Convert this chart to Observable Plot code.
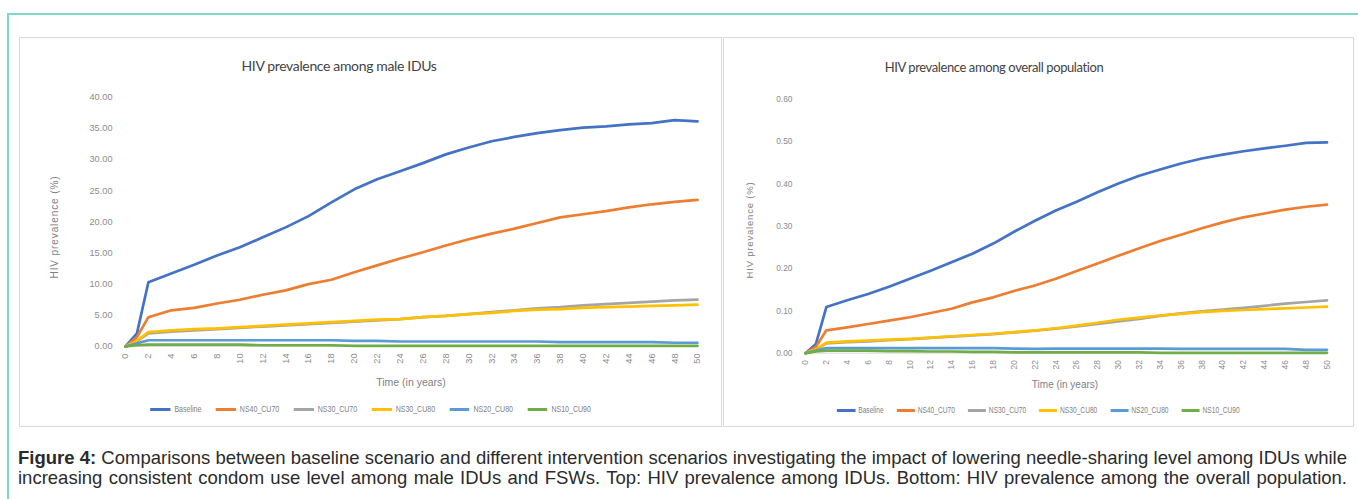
<!DOCTYPE html>
<html><head><meta charset="utf-8">
<script src="https://cdn.jsdelivr.net/npm/d3@7"></script>
<script src="https://cdn.jsdelivr.net/npm/@observablehq/plot@0.6"></script>
<style>
html,body{margin:0;padding:0;background:#fff;}
#page{position:relative;width:1358px;height:499px;overflow:hidden;font-family:Lato,sans-serif;}
.abs{position:absolute;}
.frame{position:absolute;border:1px solid #d9d9d9;box-sizing:border-box;}
.ctr{position:absolute;white-space:nowrap;transform:translate(-50%,-50%);}
.ylab{position:absolute;white-space:nowrap;transform:translate(-50%,-50%) rotate(-90deg);color:#7f7f7f;font-family:"Liberation Sans",Arial,sans-serif;}
.legend{position:absolute;display:flex;justify-content:center;align-items:center;white-space:nowrap;color:#7f7f7f;font-family:"Liberation Sans",Arial,sans-serif;transform-origin:50% 50%;}
.item{display:flex;align-items:center;}
.sw{display:inline-block;height:3px;}
.cap{position:absolute;left:18px;width:1329px;font-family:"Liberation Sans",Arial,sans-serif;color:#2b2b2b;line-height:20px;white-space:nowrap;}
</style></head>
<body><div id="page"></div>
<script>
// ---- data ----
const years = [0,1,2,4,6,8,10,12,14,16,18,20,22,24,26,28,30,32,34,36,38,40,42,44,46,48,50];
const scenarios = ["Baseline","NS40_CU70","NS30_CU70","NS30_CU80","NS20_CU80","NS10_CU90"];
const colors = ["#4472C4","#ED7D31","#A5A5A5","#FFC000","#5B9BD5","#70AD47"];

// HIV prevalence among male IDUs (%)
const iduBaseline = [0,2.1,10.3,11.7,13.1,14.6,15.9,17.5,19.1,20.9,23.1,25.2,26.8,28.1,29.4,30.8,31.9,32.9,33.6,34.2,34.7,35.1,35.3,35.6,35.8,36.3,36.1];
const iduNS40CU70 = [0,1.5,4.7,5.8,6.2,6.9,7.5,8.3,9.0,10.0,10.7,11.9,13.0,14.1,15.1,16.2,17.2,18.1,18.9,19.8,20.7,21.2,21.7,22.3,22.8,23.2,23.5];
const iduNS30CU70 = [0,0.8,2.1,2.4,2.6,2.8,3.0,3.2,3.4,3.6,3.8,4.0,4.2,4.4,4.7,4.9,5.2,5.5,5.8,6.1,6.3,6.6,6.8,7.0,7.2,7.4,7.5];
const iduNS30CU80 = [0,0.9,2.3,2.6,2.8,2.9,3.1,3.3,3.5,3.7,3.9,4.1,4.3,4.4,4.7,4.9,5.2,5.4,5.7,5.9,6.0,6.2,6.3,6.4,6.5,6.6,6.7];
const iduNS20CU80 = [0,0.5,1.0,1.0,1.0,1.0,1.0,1.0,1.0,1.0,1.0,0.9,0.9,0.8,0.8,0.8,0.8,0.8,0.8,0.8,0.7,0.7,0.7,0.7,0.7,0.6,0.6];
const iduNS10CU90 = [0,0.2,0.3,0.3,0.3,0.3,0.3,0.2,0.2,0.2,0.2,0.1,0.1,0.1,0.1,0.1,0.1,0.1,0.1,0.1,0.1,0.1,0.1,0.1,0.1,0.1,0.1];

// HIV prevalence among overall population (%)
const popBaseline = [0,0.022,0.109,0.125,0.140,0.157,0.176,0.195,0.215,0.235,0.259,0.287,0.313,0.337,0.358,0.380,0.401,0.419,0.434,0.448,0.460,0.469,0.477,0.484,0.490,0.497,0.498];
const popNS40CU70 = [0,0.015,0.054,0.061,0.069,0.077,0.085,0.095,0.105,0.120,0.132,0.147,0.160,0.176,0.194,0.212,0.230,0.248,0.265,0.280,0.295,0.309,0.321,0.330,0.339,0.346,0.351];
const popNS30CU70 = [0,0.008,0.023,0.026,0.028,0.031,0.033,0.036,0.039,0.042,0.045,0.049,0.053,0.058,0.063,0.069,0.075,0.081,0.088,0.094,0.099,0.103,0.107,0.112,0.117,0.121,0.125];
const popNS30CU80 = [0,0.009,0.025,0.028,0.030,0.032,0.034,0.037,0.040,0.043,0.046,0.050,0.054,0.059,0.065,0.072,0.079,0.084,0.089,0.093,0.097,0.100,0.102,0.104,0.106,0.108,0.110];
const popNS20CU80 = [0,0.006,0.012,0.012,0.012,0.012,0.012,0.012,0.012,0.012,0.012,0.011,0.010,0.011,0.011,0.011,0.011,0.011,0.011,0.010,0.010,0.010,0.010,0.010,0.010,0.008,0.008];
const popNS10CU90 = [0,0.004,0.006,0.006,0.006,0.005,0.005,0.004,0.004,0.003,0.003,0.002,0.002,0.002,0.002,0.002,0.002,0.002,0.001,0.001,0.001,0.001,0.001,0.001,0.001,0.001,0.001];

const xTicks = [0,2,4,6,8,10,12,14,16,18,20,22,24,26,28,30,32,34,36,38,40,42,44,46,48,50];
const iduYTicks = [0,5,10,15,20,25,30,35,40];
const popYTicks = [0,0.1,0.2,0.3,0.4,0.5,0.6];

const titles = ["HIV prevalence among male IDUs","HIV prevalence among overall population"];
const yLabel = "HIV prevalence (%)";
const xLabel = "Time (in years)";
const captionBold = "Figure 4:";
const captionLine1 = " Comparisons between baseline scenario and different intervention scenarios investigating the impact of lowering needle-sharing level among IDUs while";
const captionLine2 = "increasing consistent condom use level among male IDUs and FSWs. Top: HIV prevalence among IDUs. Bottom: HIV prevalence among the overall population.";

// ---- build ----
function toRows(seriesList){
  return scenarios.flatMap((s,i)=>years.map((yr,j)=>({year:yr,value:seriesList[i][j],scenario:s})));
}
const iduRows = toRows([iduBaseline,iduNS40CU70,iduNS30CU70,iduNS30CU80,iduNS20CU80,iduNS10CU90]);
const popRows = toRows([popBaseline,popNS40CU70,popNS30CU70,popNS30CU80,popNS20CU80,popNS10CU90]);

const page = document.getElementById("page");
function el(tag, cls, css, text){
  const e=document.createElement(tag); if(cls) e.className=cls;
  Object.assign(e.style, css||{}); if(text!=null) e.textContent=text; page.appendChild(e); return e;
}
// outer teal frame
el("div","abs",{left:"7px",top:"13px",width:"1351px",height:"486px",borderTop:"2px solid #7fd6cc",borderLeft:"2px solid #7fd6cc",boxSizing:"border-box"});

function panel(cfg){
  el("div","frame",{left:cfg.left+"px",top:cfg.top+"px",width:cfg.w+"px",height:cfg.h+"px"});
  const svg = Plot.plot({
    width:cfg.w, height:cfg.h,
    marginLeft:cfg.mL, marginRight:cfg.mR, marginTop:cfg.mT, marginBottom:cfg.mB,
    x:{domain:[0,50]}, y:{domain:cfg.yDomain},
    color:{domain:scenarios, range:colors},
    style:{fontFamily:"'Liberation Sans',Arial,sans-serif", color:"#8c8c8c", background:"transparent", overflow:"visible"},
    marks:[
      Plot.ruleY([0],{stroke:"#d9d9d9"}),
      Plot.axisY({ticks:cfg.yTicks, tickFormat:d3.format(".2f"), tickSize:0, tickPadding:cfg.yPad, label:null, fontSize:cfg.fs}),
      Plot.axisX({ticks:xTicks, tickFormat:d=>String(d), tickRotate:-90, tickSize:0, tickPadding:cfg.xPad, label:null, fontSize:cfg.fs}),
      Plot.line(cfg.rows,{x:"year",y:"value",z:"scenario",stroke:"scenario",strokeWidth:2.7,strokeLinejoin:"round",strokeLinecap:"round"})
    ]
  });
  const holder = el("div","abs",{left:cfg.left+"px",top:cfg.top+"px"});
  holder.appendChild(svg);
  el("div","ctr",{left:cfg.titleX+"px",top:cfg.titleY+"px",fontSize:cfg.titleFs+"px",letterSpacing:cfg.titleLs+"px",color:"#444"},cfg.title);
  el("div","ylab",{left:cfg.ylabX+"px",top:cfg.ylabY+"px",fontSize:cfg.ylabFs+"px",letterSpacing:cfg.ylabLs+"px"},yLabel);
  el("div","ctr",{left:cfg.xlabX+"px",top:cfg.xlabY+"px",fontSize:cfg.xlabFs+"px",color:"#7f7f7f",fontFamily:"'Liberation Sans',Arial,sans-serif"},xLabel);
  // legend, horizontally condensed like the reference's narrow legend text
  const k = cfg.legScale, W = cfg.w/k;
  const lg = el("div","legend",{left:(cfg.left+cfg.w/2-W/2)+"px",width:W+"px",top:(cfg.legY-8)+"px",height:"16px",fontSize:cfg.legFs+"px",transform:"scaleX("+k+")"});
  scenarios.forEach((s,i)=>{
    const it=document.createElement("div"); it.className="item";
    it.style.marginRight = i<scenarios.length-1 ? (cfg.legGap/k)+"px" : "0px";
    const sw=document.createElement("span"); sw.className="sw"; sw.style.width=(cfg.swW/k)+"px"; sw.style.background=colors[i]; sw.style.marginRight=(cfg.swGap/k)+"px";
    const tx=document.createElement("span"); tx.textContent=s;
    it.appendChild(sw); it.appendChild(tx); lg.appendChild(it);
  });
}

panel({left:19, top:37, w:703, h:390, mL:106, mR:25, mT:59.5, mB:81,
  yDomain:[0,40], yTicks:iduYTicks, rows:iduRows, fs:9.2, yPad:13, xPad:7,
  title:titles[0], titleX:339, titleY:65, titleFs:14, titleLs:-0.35,
  ylabX:54, ylabY:227, ylabFs:10, ylabLs:0.9,
  xlabX:411, xlabY:382, xlabFs:10.5,
  legY:409, legFs:9, legScale:0.78, legGap:14.5, swW:20, swGap:4});
panel({left:723, top:37, w:631, h:390, mL:82, mR:27.5, mT:61.7, mB:74.3,
  yDomain:[0,0.6], yTicks:popYTicks, rows:popRows, fs:8.4, yPad:13, xPad:7,
  title:titles[1], titleX:994, titleY:67, titleFs:13, titleLs:-0.4,
  ylabX:749, ylabY:230, ylabFs:9.5, ylabLs:0.8,
  xlabX:1065, xlabY:384, xlabFs:10,
  legY:410, legFs:8.5, legScale:0.78, legGap:13, swW:18, swGap:3});

// caption: two lines, sized to the reference line width
const c1 = el("div","cap",{top:"448px",fontSize:"18px"});
const b = document.createElement("b"); b.textContent=captionBold; c1.appendChild(b);
c1.appendChild(document.createTextNode(captionLine1));
const c2 = el("div","cap",{top:"468px",fontSize:"18px"},captionLine2);
[c1,c2].forEach(c=>{c.style.width="auto";});
const wMax = Math.max(c1.getBoundingClientRect().width, c2.getBoundingClientRect().width);
const fs = Math.floor(18*1329/wMax*10)/10;
[c1,c2].forEach(c=>{
  c.style.fontSize=fs+"px"; c.style.width="1329px"; c.style.whiteSpace="normal";
  c.style.textAlign="justify"; c.style.textAlignLast="justify";
});
</script>
</body></html>
